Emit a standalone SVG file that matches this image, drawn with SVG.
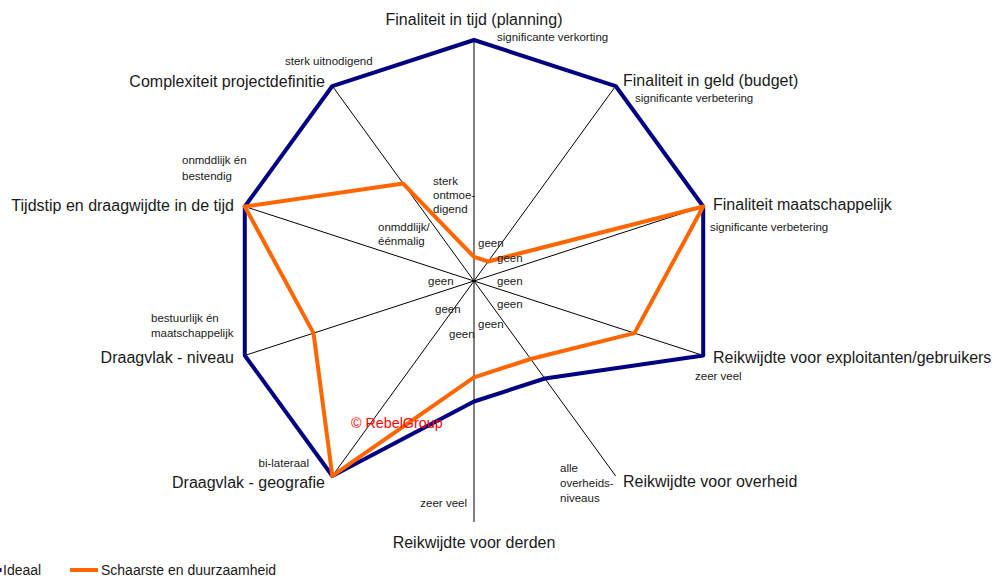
<svg xmlns="http://www.w3.org/2000/svg" width="997" height="578" viewBox="0 0 997 578">
  <style>
    text { font-family: "Liberation Sans", Arial, sans-serif; fill: #1a1a1a; }
    .axis-label { font-size: 16px; }
    .scale { font-size: 11.5px; }
    .legend { font-size: 14px; }
    .spoke { stroke: #000; stroke-width: 1; fill: none; }
    .spoke-v { stroke: #808080; stroke-width: 2; fill: none; }
    .ideal { stroke: #000080; stroke-width: 4; fill: none; stroke-linejoin: round; }
    .scarcity { stroke: #ff6600; stroke-width: 4; fill: none; stroke-linejoin: round; }
    .end { text-anchor: end; }
    .mid { text-anchor: middle; }
  </style>

  <rect width="997" height="578" fill="#fff"/>

  <!-- radar spokes, centre (474,281), radius 241 -->
  <g id="connectors">
    <line class="spoke-v" x1="474" y1="40" x2="474" y2="522"/>
    <line class="spoke" x1="474" y1="281" x2="615.66" y2="86.03"/>
    <line class="spoke" x1="474" y1="281" x2="703.21" y2="206.53"/>
    <line class="spoke" x1="474" y1="281" x2="703.21" y2="355.47"/>
    <line class="spoke" x1="474" y1="281" x2="615.66" y2="475.97"/>
    <line class="spoke" x1="474" y1="281" x2="332.34" y2="475.97"/>
    <line class="spoke" x1="474" y1="281" x2="244.79" y2="355.47"/>
    <line class="spoke" x1="474" y1="281" x2="244.79" y2="206.53"/>
    <line class="spoke" x1="474" y1="281" x2="332.34" y2="86.03"/>
  </g>

  <!-- data series -->
  <g id="series-ideaal">
    <polygon class="ideal" points="474,40 615.66,86.03 703.21,206.53 703.21,355.47 544.83,378.48 474,401.5 332.34,475.97 244.79,355.47 244.79,206.53 332.34,86.03"/>
  </g>
  <g id="series-schaarste">
    <polygon class="scarcity" points="474,256.9 488.17,261.5 703.21,206.53 634.47,333.14 530.67,358.99 474,377.4 332.34,475.97 313.53,333.14 244.79,206.53 403.17,183.52"/>
  </g>

  <!-- axis labels with scale extremes -->
  <g id="axis-planning">
    <text class="axis-label mid" x="474" y="25">Finaliteit in tijd (planning)</text>
    <text class="scale" x="497" y="41">significante verkorting</text>
  </g>
  <g id="axis-budget">
    <text class="axis-label" x="623" y="86">Finaliteit in geld (budget)</text>
    <text class="scale" x="635" y="102">significante verbetering</text>
  </g>
  <g id="axis-maatschappelijk">
    <text class="axis-label" x="713" y="210">Finaliteit maatschappelijk</text>
    <text class="scale" x="710" y="231">significante verbetering</text>
  </g>
  <g id="axis-exploitanten">
    <text class="axis-label" x="713" y="363">Reikwijdte voor exploitanten/gebruikers</text>
    <text class="scale" x="695" y="380">zeer veel</text>
  </g>
  <g id="axis-overheid">
    <text class="axis-label" x="623" y="487">Reikwijdte voor overheid</text>
    <text class="scale" x="560" y="472">alle</text>
    <text class="scale" x="560" y="487">overheids-</text>
    <text class="scale" x="560" y="502">niveaus</text>
  </g>
  <g id="axis-derden">
    <text class="axis-label mid" x="474" y="548">Reikwijdte voor derden</text>
    <text class="scale end" x="467" y="507">zeer veel</text>
  </g>
  <g id="axis-geografie">
    <text class="axis-label end" x="325" y="488">Draagvlak - geografie</text>
    <text class="scale end" x="309" y="467">bi-lateraal</text>
  </g>
  <g id="axis-niveau">
    <text class="axis-label end" x="234" y="363">Draagvlak - niveau</text>
    <text class="scale" x="151" y="322">bestuurlijk én</text>
    <text class="scale" x="151" y="337">maatschappelijk</text>
  </g>
  <g id="axis-tijdstip">
    <text class="axis-label end" x="234" y="211">Tijdstip en draagwijdte in de tijd</text>
    <text class="scale" x="182" y="164">onmddlijk én</text>
    <text class="scale" x="182" y="180">bestendig</text>
    <text class="scale" x="378" y="231">onmddlijk/</text>
    <text class="scale" x="378" y="245">éénmalig</text>
  </g>
  <g id="axis-complexiteit">
    <text class="axis-label end" x="325" y="87">Complexiteit projectdefinitie</text>
    <text class="scale" x="285" y="65">sterk uitnodigend</text>
    <text class="scale" x="433" y="185">sterk</text>
    <text class="scale" x="433" y="199">ontmoe-</text>
    <text class="scale" x="433" y="213">digend</text>
  </g>

  <!-- zero ends of the scales -->
  <g id="scale-zero">
    <text class="scale" x="478" y="247">geen</text>
    <text class="scale" x="497" y="262">geen</text>
    <text class="scale" x="428" y="285">geen</text>
    <text class="scale" x="497" y="285">geen</text>
    <text class="scale" x="435" y="313">geen</text>
    <text class="scale" x="497" y="308">geen</text>
    <text class="scale" x="478" y="328">geen</text>
    <text class="scale" x="449" y="338">geen</text>
  </g>

  <text id="copyright" x="351" y="428" style="font-size:14.3px; fill:#ff0000;">© RebelGroup</text>

  <!-- legend -->
  <g id="legend">
    <line x1="-30" y1="570" x2="1.5" y2="570" stroke="#000080" stroke-width="4"/>
    <text class="legend" x="3" y="574.5">Ideaal</text>
    <line x1="70" y1="570" x2="98" y2="570" stroke="#ff6600" stroke-width="4"/>
    <text class="legend" x="101" y="574.5">Schaarste en duurzaamheid</text>
  </g>
</svg>
